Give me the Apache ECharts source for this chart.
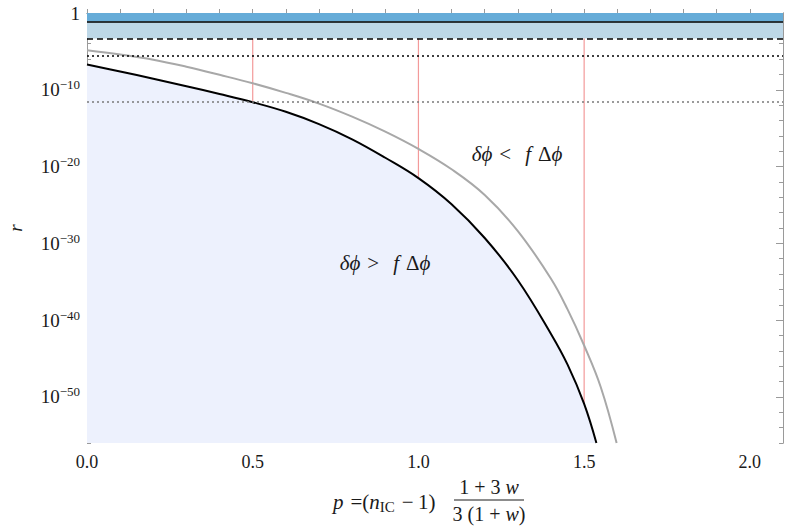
<!DOCTYPE html>
<html><head><meta charset="utf-8">
<script src="https://cdn.jsdelivr.net/npm/echarts@6/dist/echarts.min.js"></script>
<style>html,body{margin:0;padding:0;background:#fff}#c{width:787px;height:529px}</style>
</head><body><div id="c"></div>
<script>
// ---- data (y values are log10 r) ----
const pBlack   = [0, 0.1, 0.2, 0.3, 0.4, 0.5, 0.6, 0.7, 0.8, 0.9, 1.0, 1.1, 1.2, 1.3, 1.4, 1.45, 1.5, 1.537];
const logBlack = [-6.7, -7.62, -8.56, -9.54, -10.55, -11.62, -12.87, -14.47, -16.45, -18.85, -21.5, -24.9, -29.3, -34.8, -41.8, -45.8, -50.9, -56];
const pGray    = [0, 0.1, 0.2, 0.3, 0.4, 0.5, 0.6, 0.7, 0.8, 0.9, 1.0, 1.1, 1.2, 1.3, 1.4, 1.45, 1.5, 1.55, 1.598];
const logGray  = [-4.85, -5.4, -6.08, -7.0, -8.05, -9.15, -10.4, -11.8, -13.5, -15.45, -17.7, -20.35, -23.7, -28.4, -34.6, -38.6, -43.3, -48.7, -56];
const levelTop = 0;           // r = 1
const levelSolid = -1.155;    // r ~ 0.07
const levelDashed = -3.31;
const levelDotted = -5.61;
const levelGrayDotted = -11.62;
const redLineP = [0.5, 1.0, 1.5];
const xMin = 0, xMax = 2.1;
const yMin = -56, yMax = 0;
const xTickValues = [0,0.1,0.2,0.3,0.4,0.5,0.6,0.7,0.8,0.9,1.0,1.1,1.2,1.3,1.4,1.5,1.6,1.7,1.8,1.9,2.0];
const xLabelValues = [0, 0.5, 1.0, 1.5, 2.0];
const yMajorValues = [0, -10, -20, -30, -40, -50];
const yMinorValues = [0,-2,-4,-6,-8,-10,-12,-14,-16,-18,-20,-22,-24,-26,-28,-30,-32,-34,-36,-38,-40,-42,-44,-46,-48,-50,-52,-54,-56];

const SERIF = 'Liberation Serif';
const AX = '#9a9a9a';
const TXT = '#1a1a1a';
const chart = echarts.init(document.getElementById('c'), null, {renderer: 'svg'});

function zip(a, b) { return a.map((v, i) => [v, b[i]]); }
function blackAt(p) { return logBlack[pBlack.indexOf(p)]; }

const baseX = {
  type: 'value', min: xMin, max: xMax,
  axisLine: {show: true, lineStyle: {color: AX, width: 1}},
  splitLine: {show: false}
};
const baseY = {
  type: 'value', min: yMin, max: yMax,
  axisLine: {show: true, lineStyle: {color: AX, width: 1}},
  splitLine: {show: false}
};

const redSeries = redLineP.map(p => ({
  type: 'line', symbol: 'none', silent: true, z: 3,
  lineStyle: {color: '#f39a9a', width: 1.2},
  data: [[p, levelDashed], [p, blackAt(p)]]
}));

const italic = {fontFamily: SERIF, fontSize: 20, fontStyle: 'italic', fill: TXT, color: TXT};
const italic21 = {fontFamily: SERIF, fontSize: 21, fontStyle: 'italic', fill: TXT, color: TXT};
const S = '\u2004';

const option = {
  animation: false,
  backgroundColor: '#fff',
  grid: {left: 87, right: 4, top: 13, bottom: 86, containLabel: false, outerBoundsMode: 'none'},
  xAxis: [
    Object.assign({}, baseX, {
      position: 'bottom',
      axisTick: {show: true, inside: true, length: 4, lineStyle: {color: AX}, customValues: xTickValues},
      axisLabel: {customValues: xLabelValues, formatter: v => v.toFixed(1), fontFamily: SERIF, fontSize: 18, color: TXT, margin: 10}
    }),
    Object.assign({}, baseX, {
      position: 'top',
      axisTick: {show: true, inside: true, length: 4, lineStyle: {color: AX}, customValues: xTickValues},
      axisLabel: {show: false}
    })
  ],
  yAxis: [
    Object.assign({}, baseY, {
      position: 'left',
      axisTick: {show: true, inside: true, length: 4, lineStyle: {color: AX}, customValues: yMinorValues},
      axisLabel: {
        customValues: yMajorValues, margin: 7,
        formatter: v => v === 0 ? '{b|1}' : '{b|10}{s|\u2212' + Math.abs(v) + '}',
        rich: {
          b: {fontFamily: SERIF, fontSize: 19, color: TXT},
          s: {fontFamily: SERIF, fontSize: 13, color: TXT, padding: [0, 0, 10, 0]}
        }
      },
      name: 'r', nameLocation: 'middle', nameGap: 62, nameRotate: 90,
      nameTextStyle: {fontFamily: SERIF, fontStyle: 'italic', fontSize: 19, color: TXT}
    }),
    Object.assign({}, baseY, {
      position: 'left',
      axisTick: {show: true, inside: true, length: 7, lineStyle: {color: AX}, customValues: yMajorValues},
      axisLabel: {show: false}
    }),
    Object.assign({}, baseY, {
      position: 'right',
      axisTick: {show: true, inside: true, length: 4, lineStyle: {color: AX}, customValues: yMinorValues},
      axisLabel: {show: false}
    }),
    Object.assign({}, baseY, {
      position: 'right',
      axisTick: {show: true, inside: true, length: 7, lineStyle: {color: AX}, customValues: yMajorValues},
      axisLabel: {show: false}
    })
  ],
  series: [
    {
      type: 'line', name: 'black', symbol: 'none', smooth: 0.4, z: 4,
      lineStyle: {color: '#000', width: 2},
      areaStyle: {color: '#edf1fd', opacity: 1, origin: 'start'},
      data: zip(pBlack, logBlack)
    },
    {
      type: 'line', name: 'gray', symbol: 'none', smooth: 0.4, z: 4,
      lineStyle: {color: '#a8a8a8', width: 2},
      data: zip(pGray, logGray)
    },
    ...redSeries,
    {
      type: 'line', name: 'levels', symbol: 'none', silent: true, z: 5,
      data: [],
      markArea: {
        silent: true,
        data: [
          [{yAxis: levelTop, itemStyle: {color: '#66acd8'}}, {yAxis: levelSolid}],
          [{yAxis: levelSolid, itemStyle: {color: '#bdd7e7'}}, {yAxis: levelDashed}]
        ]
      },
      markLine: {
        silent: true, symbol: 'none', label: {show: false},
        data: [
          {yAxis: levelSolid, lineStyle: {color: '#000', width: 1.6, type: 'solid'}},
          {yAxis: levelDashed, lineStyle: {color: '#000', width: 1.6, type: [6, 4]}},
          {yAxis: levelDotted, lineStyle: {color: '#000', width: 1.6, type: [2, 3]}},
          {yAxis: levelGrayDotted, lineStyle: {color: '#7a7a7a', width: 1.6, type: [2, 3]}}
        ]
      }
    }
  ],
  graphic: [
    {
      type: 'text', x: 517, y: 154, z: 100,
      style: {
        text: '{i|\u03b4\u03d5}' + S + '<' + S + S + '{i|f}' + S + '\u0394{i|\u03d5}',
        align: 'center', verticalAlign: 'middle',
        fontFamily: SERIF, fontSize: 21, fill: TXT,
        rich: {i: italic21}
      }
    },
    {
      type: 'text', x: 385, y: 263, z: 100,
      style: {
        text: '{i|\u03b4\u03d5}' + S + '>' + S + S + '{i|f}' + S + '\u0394{i|\u03d5}',
        align: 'center', verticalAlign: 'middle',
        fontFamily: SERIF, fontSize: 21, fill: TXT,
        rich: {i: italic21}
      }
    },
    {
      type: 'text', x: 333, y: 502, z: 100,
      style: {
        text: '{i|p}' + S + '=(' + '{i|n}{sub|IC}' + S + '\u2212\u20091)',
        align: 'left', verticalAlign: 'middle',
        fontFamily: SERIF, fontSize: 21, fill: TXT,
        rich: {
          i: italic21,
          sub: {fontFamily: SERIF, fontSize: 15, fill: TXT, color: TXT, padding: [9, 0, 0, 0]}
        }
      }
    },
    {
      type: 'text', x: 489, y: 487, z: 100,
      style: {
        text: '1 + 3 {i|w}',
        align: 'center', verticalAlign: 'middle',
        fontFamily: SERIF, fontSize: 20, fill: TXT,
        rich: {i: italic}
      }
    },
    {
      type: 'line', z: 100,
      shape: {x1: 454, y1: 500, x2: 524, y2: 500},
      style: {stroke: TXT, lineWidth: 1}
    },
    {
      type: 'text', x: 489, y: 514, z: 100,
      style: {
        text: '3 (1 + {i|w})',
        align: 'center', verticalAlign: 'middle',
        fontFamily: SERIF, fontSize: 20, fill: TXT,
        rich: {i: italic}
      }
    }
  ]
};
chart.setOption(option);
</script>
</body></html>
